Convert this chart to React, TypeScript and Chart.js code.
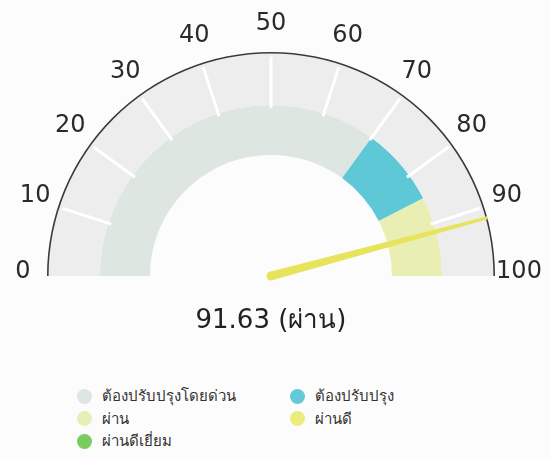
import React, { useEffect, useRef } from 'react';
import { Chart, registerables } from 'chart.js';

Chart.register(...registerables);

const tickLabels = ['0', '10', '20', '30', '40', '50', '60', '70', '80', '90', '100'];
const ringSegments = [100];
const bandLabels = ['ต้องปรับปรุงโดยด่วน', 'ต้องปรับปรุง', 'ผ่าน'];
const bandValues = [70, 15, 15];
const bandColors = ['#dde6e1', '#5ec8d6', '#e9efb3'];
const gaugeValue = 91.63;
const gaugeStatus = 'ผ่าน';
const legendLabels = ['ต้องปรับปรุงโดยด่วน', 'ต้องปรับปรุง', 'ผ่าน', 'ผ่านดี', 'ผ่านดีเยี่ยม'];
const legendColors = ['#dde6e2', '#62cad8', '#e6efb5', '#ebeb7e', '#79cc60'];

const FONT = '"DejaVu Sans", "Noto Sans", sans-serif';

const gaugeOverlay = {
  id: 'gaugeOverlay',
  afterDatasetsDraw(chart: any) {
    const ctx = chart.ctx;
    const outer = chart.getDatasetMeta(0).data[0] as any;
    const ring = chart.getDatasetMeta(1).data[0] as any;
    const bandMeta = chart.getDatasetMeta(2);
    const cx = outer.x;
    const cy = outer.y;
    const R = outer.outerRadius;
    const start = bandMeta.data[0].startAngle;
    const end = bandMeta.data[bandMeta.data.length - 1].endAngle;
    const maxVal = bandValues.reduce((a, b) => a + b, 0);
    const n = tickLabels.length - 1;

    // white tick dividers
    ctx.save();
    ctx.strokeStyle = '#ffffff';
    ctx.lineWidth = 3;
    for (let i = 1; i < n; i++) {
      const a = start + ((end - start) * i) / n;
      const r0 = ring.innerRadius - 3;
      const r1 = ring.outerRadius - 3;
      ctx.beginPath();
      ctx.moveTo(cx + Math.cos(a) * r0, cy + Math.sin(a) * r0);
      ctx.lineTo(cx + Math.cos(a) * r1, cy + Math.sin(a) * r1);
      ctx.stroke();
    }
    ctx.restore();

    // tick labels
    ctx.save();
    ctx.fillStyle = '#2a2a2a';
    ctx.font = `24px ${FONT}`;
    ctx.textAlign = 'center';
    ctx.textBaseline = 'middle';
    tickLabels.forEach((t, i) => {
      const a = start + ((end - start) * i) / n;
      const r = R + 24;
      ctx.fillText(t, cx + Math.cos(a) * r, cy + Math.sin(a) * r - 4);
    });
    ctx.restore();

    // needle
    const a = start + ((end - start) * gaugeValue) / maxVal;
    const len = R;
    const w0 = 4.5;
    const w1 = 1.5;
    const nx = Math.cos(a), ny = Math.sin(a);
    const px = -ny, py = nx;
    ctx.save();
    ctx.fillStyle = '#e8e35c';
    ctx.beginPath();
    ctx.moveTo(cx + px * w0, cy + py * w0);
    ctx.lineTo(cx + nx * len + px * w1, cy + ny * len + py * w1);
    ctx.lineTo(cx + nx * len - px * w1, cy + ny * len - py * w1);
    ctx.lineTo(cx - px * w0, cy - py * w0);
    ctx.closePath();
    ctx.fill();
    ctx.beginPath();
    ctx.arc(cx, cy, w0, 0, Math.PI * 2);
    ctx.fill();
    ctx.restore();

    // value text
    ctx.save();
    ctx.fillStyle = '#222';
    ctx.font = `26px ${FONT}`;
    ctx.textAlign = 'center';
    ctx.textBaseline = 'middle';
    ctx.fillText(`${gaugeValue.toFixed(2)} (${gaugeStatus})`, cx, cy + 45);
    ctx.restore();
  },
};

export default function App() {
  const ref = useRef<HTMLCanvasElement | null>(null);
  useEffect(() => {
    if (!ref.current) return;
    const chart = new Chart(ref.current, {
      type: 'doughnut',
      data: {
        labels: bandLabels,
        datasets: [
          { data: [100], backgroundColor: '#3a3a3a', borderWidth: 0, weight: 1.6 } as any,
          { data: ringSegments, backgroundColor: '#ededed', borderWidth: 0, weight: 51.4 } as any,
          { data: bandValues, backgroundColor: bandColors, borderWidth: 0, weight: 50 } as any,
        ],
      },
      options: {
        responsive: false,
        animation: false,
        events: [],
        rotation: -90,
        circumference: 180,
        radius: 224,
        cutout: `${(121 / 224) * 100}%`,
        layout: { padding: { left: 40, right: 49, top: 40, bottom: 62 } },
        plugins: { legend: { display: false }, tooltip: { enabled: false } },
      } as any,
      plugins: [gaugeOverlay],
    });
    return () => chart.destroy();
  }, []);

  return (
    <div style={{ position: 'fixed', left: 0, top: 0, width: 551, height: 459, background: '#fcfcfc', fontFamily: FONT }}>
      <canvas ref={ref} width={551} height={350} style={{ position: 'absolute', left: 0, top: 0, width: 551, height: 350 }} />
      {legendLabels.map((l, i) => {
        const col = i % 2;
        const row = Math.floor(i / 2);
        const x = col === 0 ? 85 : 298;
        const y = 396 + row * 22.5;
        return (
          <div key={l} style={{ position: 'absolute', left: x - 8, top: y - 11, height: 22, display: 'flex', alignItems: 'center', whiteSpace: 'nowrap' }}>
            <span style={{ width: 15, height: 15, borderRadius: '50%', background: legendColors[i], display: 'inline-block', marginRight: 10 }} />
            <span style={{ fontSize: 15, color: '#333' }}>{l}</span>
          </div>
        );
      })}
    </div>
  );
}
